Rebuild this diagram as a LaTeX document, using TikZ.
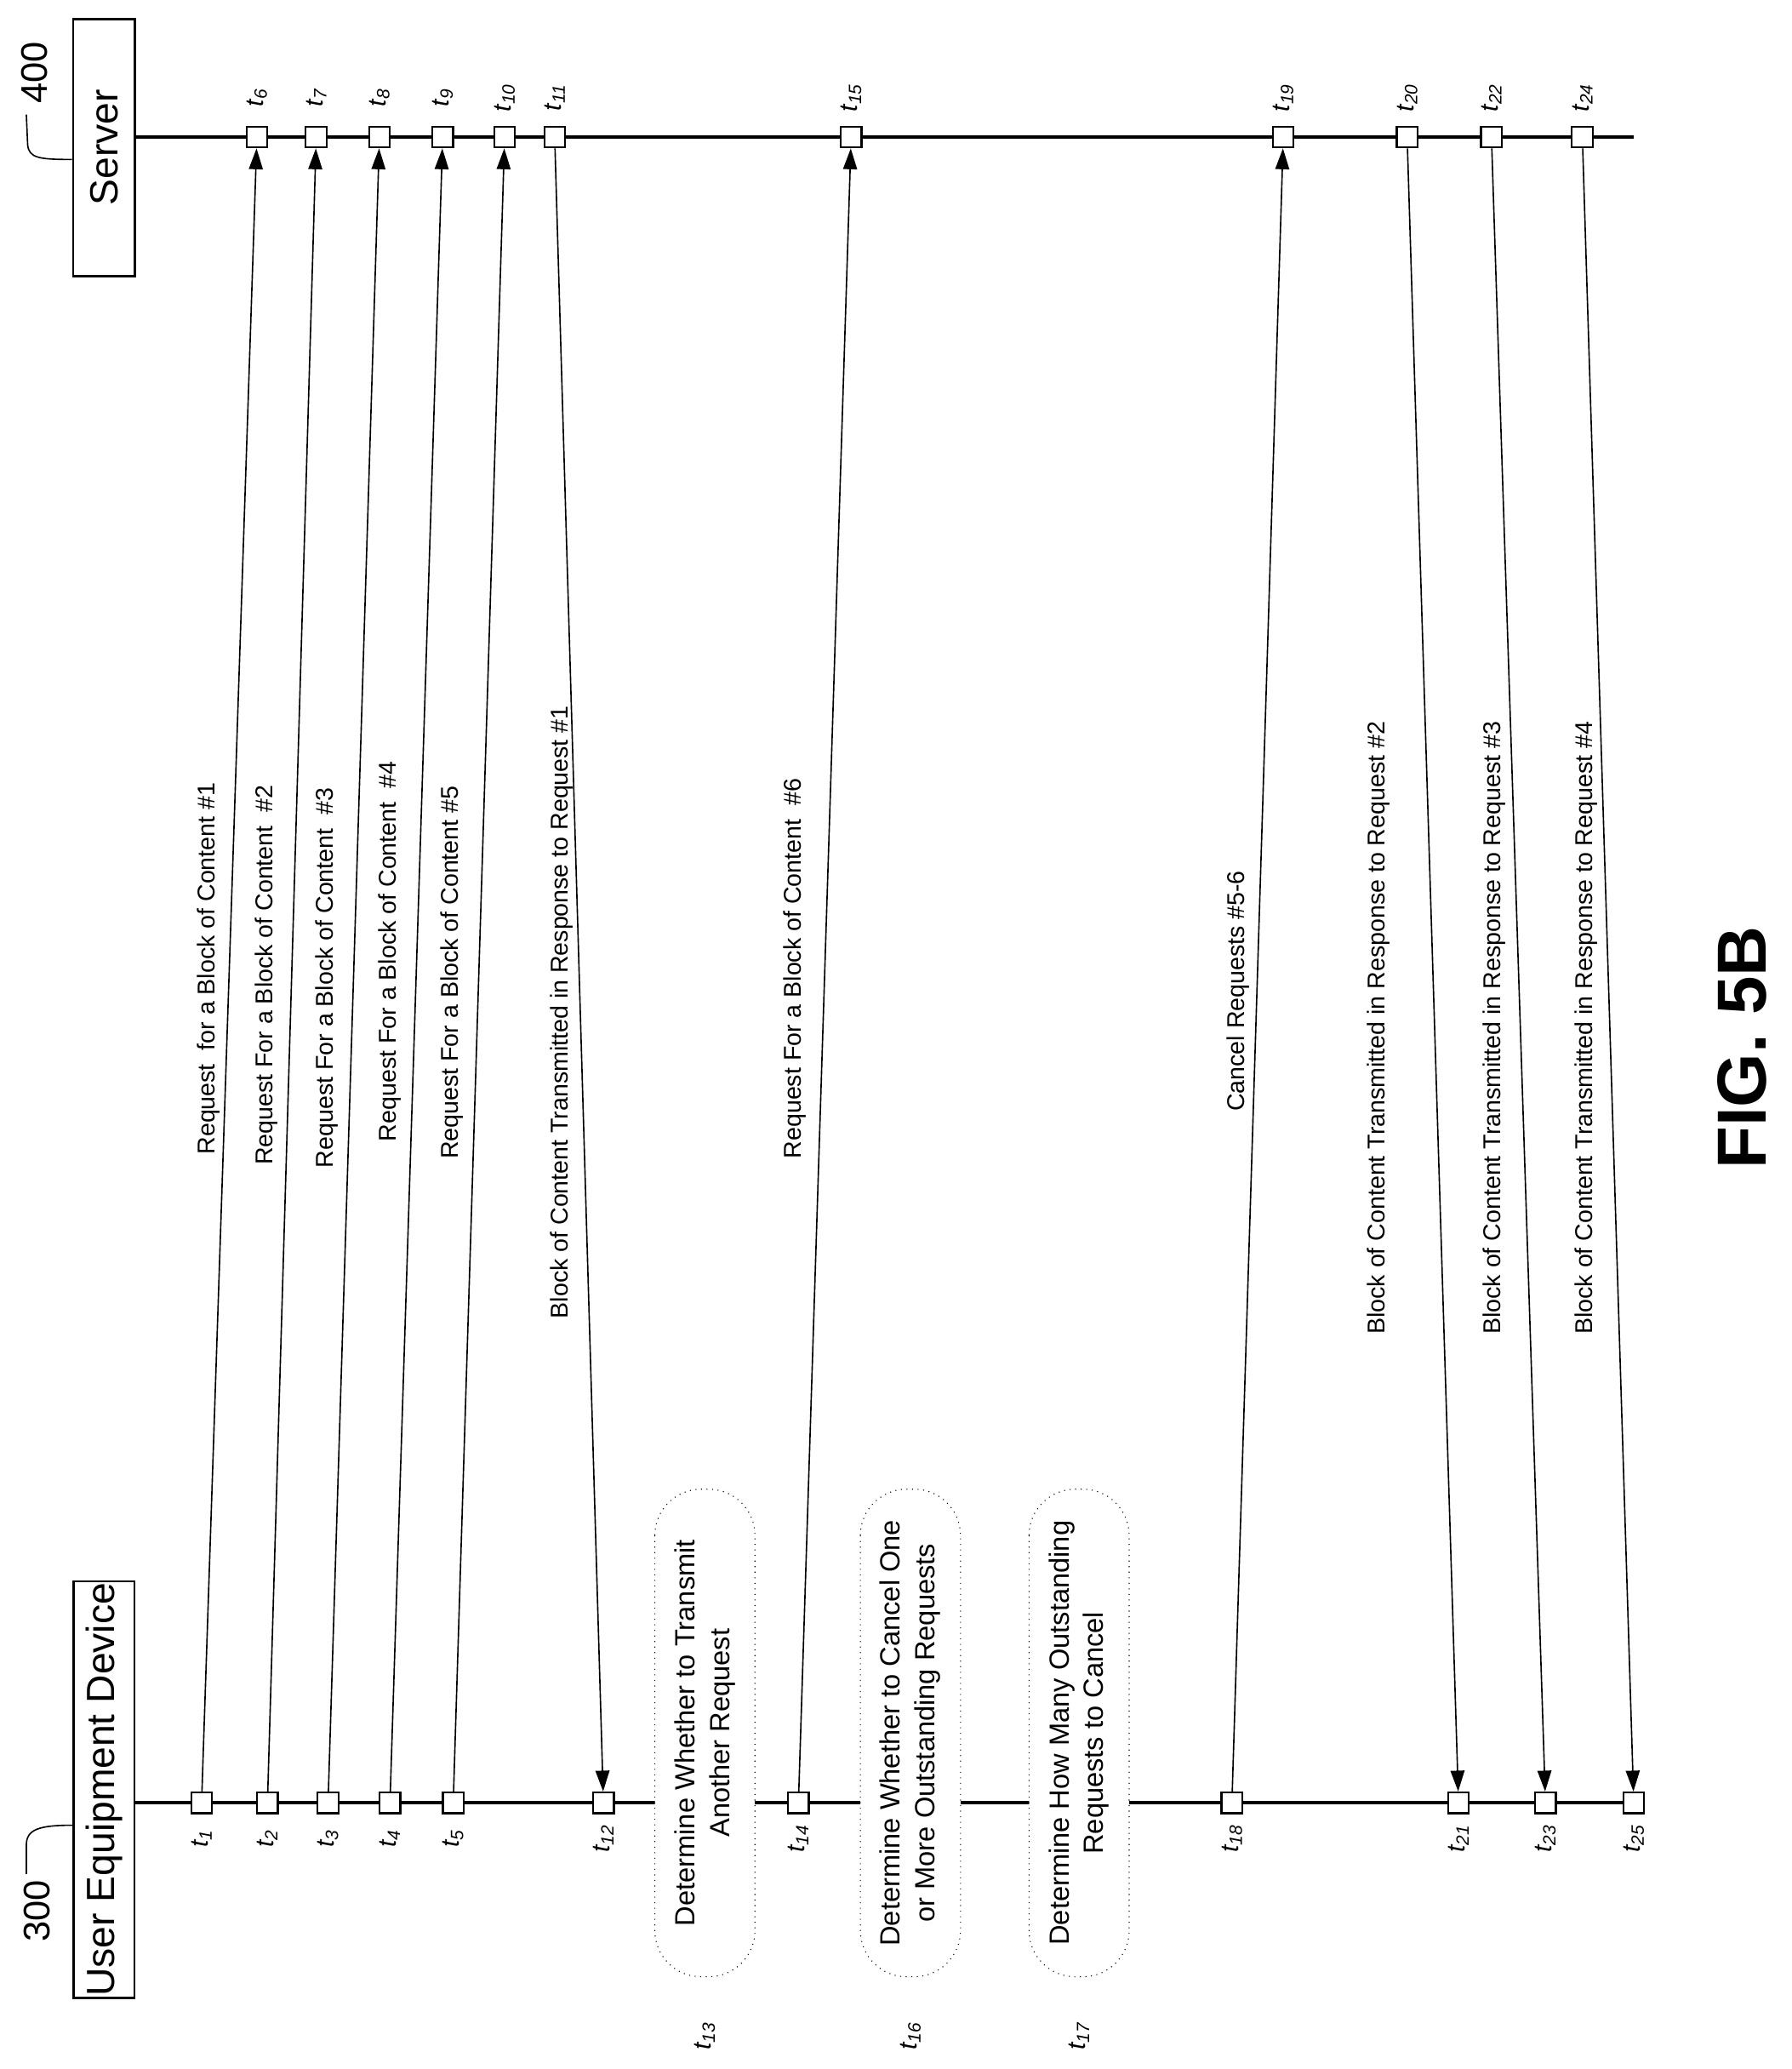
\documentclass[tikz,border=0pt]{standalone}
\usepackage{fontspec}
\setmainfont{Liberation Sans}
\usetikzlibrary{arrows.meta}

\tikzset{
  tick/.style={draw,fill=white,minimum size=9pt,inner sep=0pt,line width=0.8pt},
  msg/.style={-{Triangle[length=9pt,width=6pt]},line width=0.6pt},
  lbl/.style={rotate=90,font=\fontsize{10.5}{12}\selectfont},
  tlbl/.style={rotate=90,font=\fontsize{11}{12}\selectfont\itshape},
  actor/.style={draw,line width=1pt,rotate=90,font=\fontsize{17}{20}\selectfont,
                inner sep=0pt},
  note/.style={draw,dotted,rounded corners=20pt,fill=white,rotate=90,align=center,
               font=\fontsize{12}{15}\selectfont,minimum width=370*0.02cm,
               minimum height=76*0.02cm,inner sep=3pt}
}
\newcommand{\tname}[1]{t\textsubscript{#1}}

\begin{document}
\begin{tikzpicture}[x=0.02cm,y=-0.02cm]
  \useasboundingbox (0,0) rectangle (1360,1570);

  % lifelines and actors
  \node[actor,minimum width=316*0.02cm,minimum height=46*0.02cm] (ue) at (79,1358) {User Equipment Device};
  \node[actor,minimum width=195*0.02cm,minimum height=47*0.02cm] (srv) at (79,112) {Server};
  \node[lbl,font=\fontsize{16}{18}\selectfont] (n300) at (28,1450) {300};
  \node[lbl,font=\fontsize{16}{18}\selectfont] (n400) at (26,55) {400};
  \draw[line width=0.6pt] (20,1422) -- (20,1400) .. controls (20,1388) and (30,1385) .. (ue.north west|-0,1385);
  \draw[line width=0.6pt] (20,87) -- (21,110) .. controls (22,120) and (30,121) .. (srv.north west|-0,121);
  \draw[line width=1.4pt] (102,1368) coordinate (ueline) -- (1240,1368);
  \draw[line width=1.4pt] (102,104) coordinate (srvline) -- (1240,104);

  % notes on the user equipment line
  \node[note] (d13) at (535,1315) {Determine Whether to Transmit\\Another Request};
  \node[note] (d16) at (691,1315) {Determine Whether to Cancel One\\or More Outstanding Requests};
  \node[note] (d17) at (819,1315) {Determine How Many Outstanding\\Requests to Cancel};
  \node[tlbl] at (535,1545) {\tname{13}};
  \node[tlbl] at (691,1545) {\tname{16}};
  \node[tlbl] at (819,1545) {\tname{17}};

  % time points on the user equipment line
  \foreach \n/\x in {1/153,2/203,3/249,4/296,5/344,12/458,14/606,18/935,21/1107,23/1173,25/1240}{
    \node[tick] (t\n) at (\x,1368) {};
    \node[tlbl] at (\x,1395) {\tname{\n}};
  }
  % time points on the server line
  \foreach \n/\x in {6/195,7/240,8/288,9/336,10/383,11/421,15/646,19/974,20/1068,22/1132,24/1201}{
    \node[tick] (t\n) at (\x,104) {};
    \node[tlbl] at (\x,74) {\tname{\n}};
  }

  % messages
  \foreach \a/\b in {1/6,2/7,3/8,4/9,5/10,11/12,14/15,18/19,20/21,22/23,24/25}
    \draw[msg] (t\a) -- (t\b);

  \node[lbl] at (158,735) {Request\ \ for a Block of Content \#1};
  \node[lbl] at (202,740) {Request For a Block of Content\ \ \#2};
  \node[lbl] at (248,742) {Request For a Block of Content\ \ \#3};
  \node[lbl] at (296,722) {Request For a Block of Content\ \ \#4};
  \node[lbl] at (343,738) {Request For a Block of Content \#5};
  \node[lbl] at (426,768) {Block of Content Transmitted in Response to Request \#1};
  \node[lbl] at (603,735) {Request For a Block of Content\ \ \#6};
  \node[lbl] at (940,752) {Cancel Requests \#5-6};
  \node[lbl] at (1046,780) {Block of Content Transmitted in Response to Request \#2};
  \node[lbl] at (1134,780) {Block of Content Transmitted in Response to Request \#3};
  \node[lbl] at (1204,780) {Block of Content Transmitted in Response to Request \#4};

  \node[rotate=90,font=\fontsize{30}{34}\selectfont\bfseries] (fig) at (1322,795) {FIG. 5B};
\end{tikzpicture}
\end{document}
